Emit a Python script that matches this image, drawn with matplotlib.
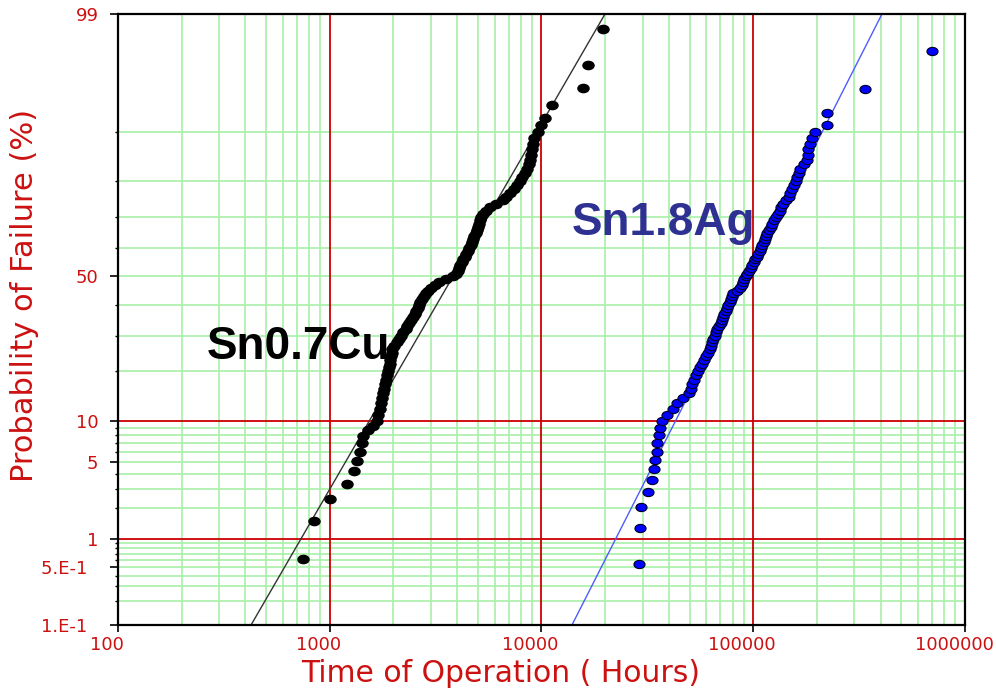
import numpy as np
import matplotlib
matplotlib.use("Agg")
import matplotlib.pyplot as plt
from matplotlib.path import Path
from matplotlib.transforms import Affine2D, ScaledTranslation
from matplotlib.ticker import FixedLocator, NullLocator
from statistics import NormalDist

# --- Sn0.7Cu : time to failure (h) and cumulative failure (%) ---
cu_hours = [748, 843, 1003, 1206, 1301, 1345, 1390, 1420, 1435, 1515, 1601, 1672,
            1685, 1722, 1741, 1770, 1789, 1807, 1824, 1842, 1862, 1881,
            1899, 1916, 1933, 1948, 1963, 1978, 2015, 2068, 2120, 2176,
            2229, 2280, 2325, 2373, 2418, 2466, 2514, 2556, 2598, 2641,
            2681, 2725, 2773, 2837, 2900, 3016, 3136, 3293, 3553, 3810,
            3928, 4018, 4080, 4143, 4206, 4271, 4345, 4417, 4495, 4568,
            4638, 4699, 4761, 4824, 4887, 4957, 5011, 5072, 5133, 5199,
            5268, 5454, 5690, 6075, 6550, 6817, 7096, 7379, 7632, 7894,
            8128, 8334, 8554, 8705, 8820, 8955, 9034, 9082, 9262, 9590,
            9919, 10388, 11210, 15704, 16587, 19520]
cu_pct = [0.61, 1.51, 2.43, 3.30, 4.24, 5.11, 6.0, 7.0, 7.9, 8.7, 9.3, 10.05,
          11, 12, 13, 14, 15, 16, 17, 18, 19, 20,
          21, 22, 23, 24, 25, 26, 27, 28, 29, 30,
          31, 32, 33, 34, 35, 36, 37, 38, 39, 40,
          41, 42, 43, 44, 45, 46, 47, 48, 49, 50,
          51, 52, 53, 54, 55, 56, 57, 58, 59, 60,
          61, 62, 63, 64, 65, 66, 67, 68, 69, 70,
          71, 72, 73, 74, 75, 76, 77, 78, 79, 80,
          81, 82, 83, 84, 85, 86, 87, 88, 89, 90,
          91, 92.0, 93.6, 95.25, 96.95, 98.6]

# --- Sn1.8Ag ---
ag_hours = [28940, 29260, 29590, 31920, 33340, 34080, 34450,
            35130, 35250, 35750, 36140, 37020, 39290, 41630, 43660, 46500, 49910,
            50900, 51460, 52530, 53630, 54750, 56010, 57300, 58550, 59850, 61030,
            62170, 63120, 63950, 64800, 65640, 66580, 67740, 68940, 70070, 71070,
            72090, 73110, 74150, 75210, 76280, 77290, 78380, 79410, 80450, 83390,
            86460, 88050, 89430, 90780, 92180, 93590, 95330, 97100, 98920, 100650,
            102420, 104110, 105830, 107670, 109080, 110520, 111860, 113200, 114820, 116710,
            118750, 120710, 122700, 125270, 128160, 130820, 133120, 135610, 138160, 142230,
            146790, 149690, 152820, 155850, 158420, 161370, 163650, 166000, 173180, 180090,
            181460, 181850, 184470, 189550, 196250,
            223640, 223640, 338100, 700400]
ag_pct = [0.54, 1.29, 2.05, 2.81, 3.57, 4.41, 5.21,
          6, 7, 8, 9, 10, 11, 12, 13, 14, 15,
          16, 17, 18, 19, 20, 21, 22, 23, 24, 25,
          26, 27, 28, 29, 30, 31, 32, 33, 34, 35,
          36, 37, 38, 39, 40, 41, 42, 43, 44, 45,
          46, 47, 48, 49, 50, 51, 52, 53, 54, 55,
          56, 57, 58, 59, 60, 61, 62, 63, 64, 65,
          66, 67, 68, 69, 70, 71, 72, 73, 74, 75,
          76, 77, 78, 79, 80, 81, 82, 83, 84, 85,
          86, 87, 88, 89, 90,
          91.0, 92.6, 95.2, 97.7]

# lognormal fit lines (end points at 0.1 % and 99 %)
fit_pct = [0.1, 99]
cu_fit_hours = [425, 19950]
ag_fit_hours = [13930, 405500]

x_ticks = [100, 1000, 10000, 100000, 1000000]
x_labels = ["100", "1000", "10000", "100000", "1000000"]
y_ticks = [0.1, 0.5, 1, 5, 10, 50, 99]
y_labels = ["1.E-1  ", "5.E-1  ", "1", "5", "10", "50", "99"]

red = "#CC1111"
green = "#A8F0A8"
grid_red = "#CC0000"

# normal probability scale for the y axis
_nd = NormalDist()
_ppf = np.vectorize(_nd.inv_cdf, otypes=[float])
_cdf = np.vectorize(_nd.cdf, otypes=[float])


def pct_to_z(p):
    p = np.asarray(p, dtype=float) / 100.0
    p = np.where(np.isfinite(p), p, 0.5)
    return _ppf(np.clip(p, 1e-9, 1 - 1e-9))


def z_to_pct(z):
    z = np.asarray(z, dtype=float)
    z = np.where(np.isfinite(z), z, 0.0)
    return _cdf(z) * 100.0


fig = plt.figure(figsize=(9.96, 7.0), dpi=100)
ax = fig.add_axes([0.11847, 0.10714, 0.85040, 0.87286])
ax.set_xscale("log")
ax.set_yscale("function", functions=(pct_to_z, z_to_pct))
ax.set_xlim(100, 1000000)
ax.set_ylim(0.1, 99)

# grid
green_h = [0.2, 0.3, 0.4, 0.5, 0.6, 0.7, 0.8, 0.9,
           2, 3, 4, 5, 6, 7, 8, 9,
           20, 30, 40, 50, 60, 70, 80, 90]
red_h = [1, 10]
green_v = [k * 10 ** n for n in range(2, 6) for k in range(2, 10)]
red_v = [1000, 10000, 100000]
for v in green_v:
    ax.axvline(v, color=green, lw=1.2, zorder=1)
for h in green_h:
    ax.axhline(h, color=green, lw=1.2, zorder=1)
for v in red_v:
    ax.axvline(v, color=grid_red, lw=1.3, zorder=2)
for h in red_h:
    ax.axhline(h, color=grid_red, lw=1.3, zorder=2)

# fit lines
ax.plot(cu_fit_hours, fit_pct, color="#333333", lw=1.0, zorder=3)
ax.plot(ag_fit_hours, fit_pct, color="#4D5CFF", lw=1.0, zorder=3)

# data points as flat ellipses
ell = Path.unit_circle().transformed(Affine2D().scale(1.35, 1.0))
ax.plot(cu_hours, cu_pct, linestyle="none", marker=ell, markersize=8,
        color="black", zorder=4)
ax.plot(ag_hours, ag_pct, linestyle="none", marker=ell, markersize=8,
        markerfacecolor="#0000FF", markeredgecolor="#000022",
        markeredgewidth=0.8, zorder=4)

ax.text(263, 23.3, "Sn0.7Cu", fontsize=33, fontweight="bold",
        family="Liberation Sans", color="black", va="baseline", zorder=5)
ax.text(13930, 64.2, "Sn1.8Ag", fontsize=33, fontweight="bold",
        family="Liberation Sans", color="#2E3192", va="baseline", zorder=5)

# ticks
ax.set_xticks(x_ticks)
ax.set_xticklabels(x_labels)
ax.xaxis.set_minor_locator(NullLocator())
ax.set_yticks(y_ticks)
ax.set_yticklabels(y_labels)
ax.yaxis.set_minor_locator(FixedLocator(green_h))
ax.tick_params(axis="x", which="major", length=5, width=1.2, pad=3,
               labelsize=13, labelcolor=red, color="black")
ax.tick_params(axis="y", which="major", length=6, width=1.2, pad=8,
               labelsize=13, labelcolor=red)
ax.tick_params(axis="y", which="minor", length=2, width=1, color="black")
tick_cols = ["black", green, grid_red, green, grid_red, green, "black"]
for t, c in zip(ax.yaxis.get_major_ticks(), tick_cols):
    t.tick1line.set_color(c)

# x labels sit a little left of their ticks
shift = ScaledTranslation(-11 / 100, 0, fig.dpi_scale_trans)
for lab in ax.get_xticklabels():
    lab.set_transform(lab.get_transform() + shift)

for s in ax.spines.values():
    s.set_color("black")
    s.set_linewidth(1.6)
    s.set_zorder(6)

ax.set_xlabel("Time of Operation ( Hours)", fontsize=21.5, color=red)
ax.set_ylabel("Probability of Failure (%)", fontsize=22, color=red)
ax.xaxis.set_label_coords(0.452, -0.055)
ax.yaxis.set_label_coords(-0.093, 0.54)

fig.savefig("out.png", dpi=100)
